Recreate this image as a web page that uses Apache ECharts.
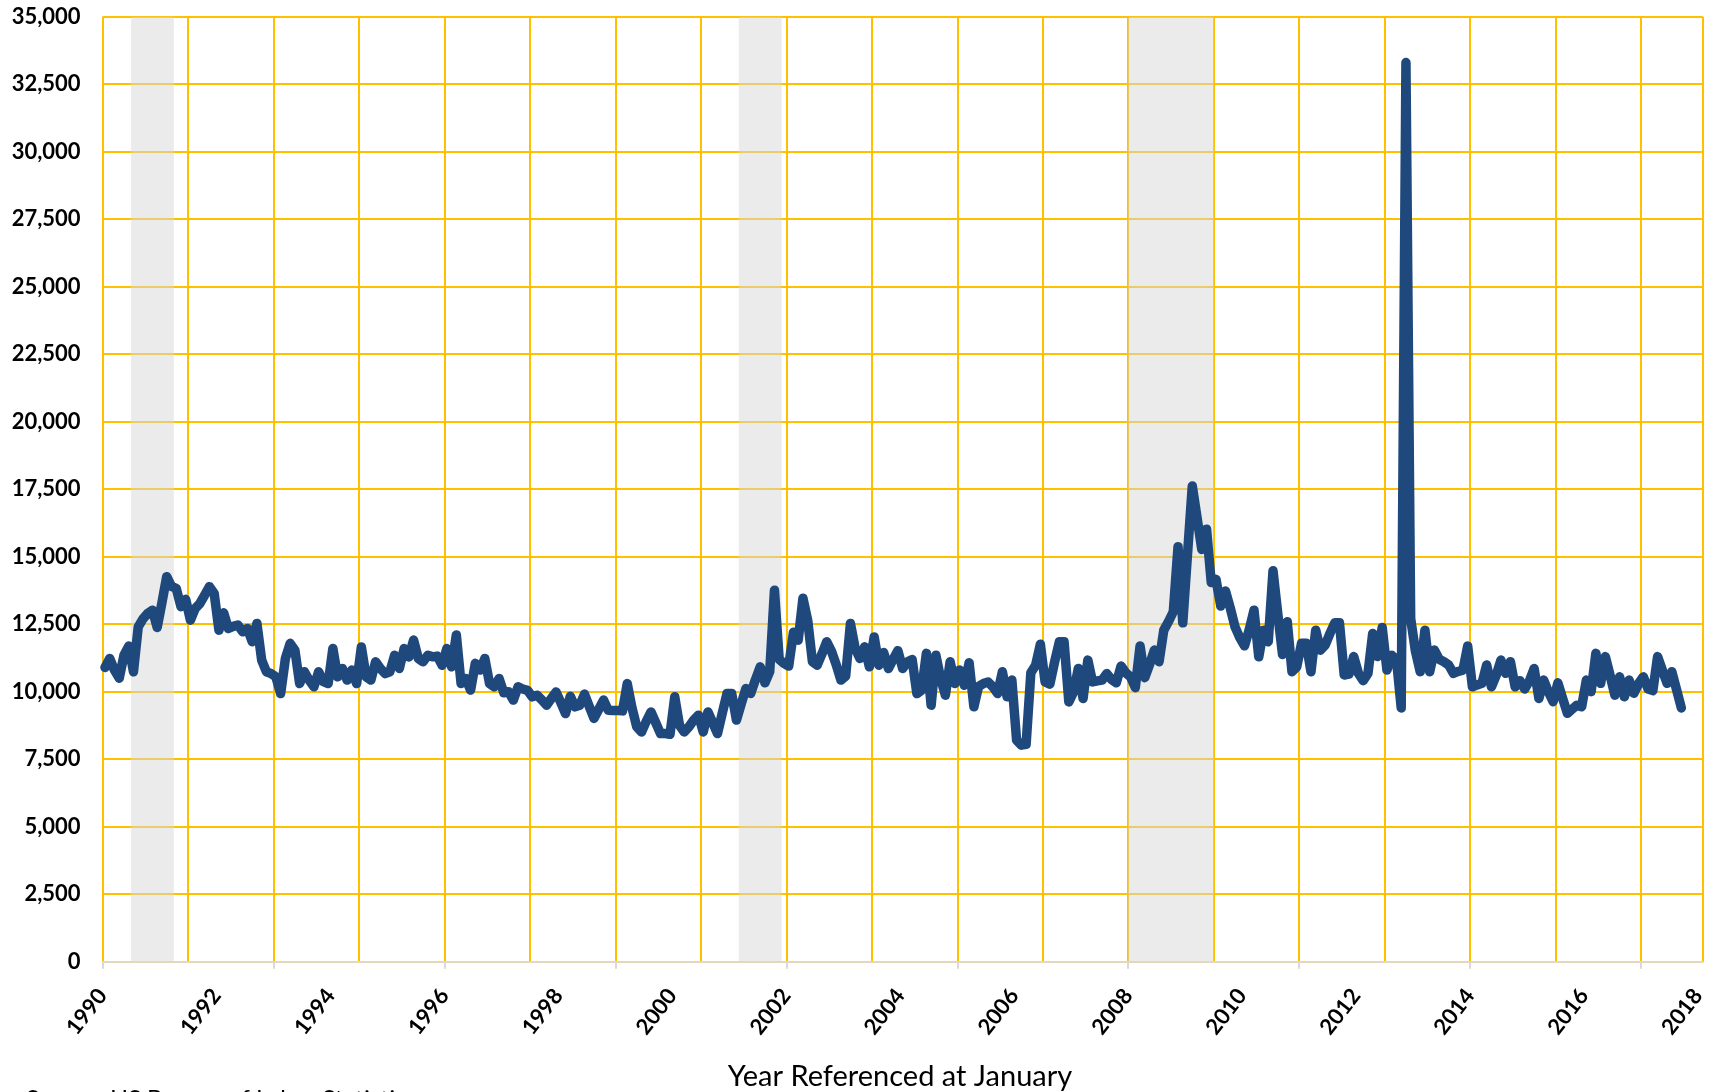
<!DOCTYPE html>
<html>
<head>
<meta charset="utf-8">
<title>Year Referenced at January</title>
<script src="https://cdn.jsdelivr.net/npm/echarts@6.0.0/dist/echarts.min.js"></script>
<style>
html, body { margin: 0; padding: 0; background: #fff; }
#chart { width: 1716px; height: 1092px; }
</style>
</head>
<body>
<div id="chart"></div>
<script>
// monthly values, starting January 1990
const values = [
  10900, 11230, 10800, 10500, 11350, 11690, 10740, 12400, 12700, 12900, 13020, 12380,
  13300, 14260, 13900, 13830, 13150, 13420, 12650, 13080, 13270, 13580, 13890, 13640,
  12280, 12920, 12340, 12420, 12470, 12220, 12340, 11850, 12530, 11170, 10740, 10670,
  10550, 9930, 11230, 11790, 11540, 10300, 10740, 10430, 10180, 10740, 10370, 10300,
  11600, 10550, 10860, 10430, 10800, 10300, 11660, 10550, 10430, 11110, 10860, 10670,
  10740, 11350, 10860, 11600, 11290, 11910, 11230, 11110, 11350, 11290, 11320, 10980,
  11600, 10920, 12100, 10300, 10490, 10060, 11050, 10800, 11230, 10300, 10180, 10490,
  9960, 10000, 9690, 10180, 10100, 10050, 9810, 9870, 9700, 9500, 9750, 9990,
  9600, 9190, 9830, 9440, 9500, 9910, 9450, 9010, 9350, 9690, 9310, 9300,
  9300, 9290, 10300, 9400, 8700, 8510, 8900, 9250, 8850, 8450, 8450, 8420,
  9810, 8760, 8510, 8700, 8950, 9130, 8510, 9250, 8850, 8450, 9200, 9930,
  9930, 8950, 9550, 10120, 9930, 10450, 10920, 10330, 10740, 13760, 11200, 11050,
  10950, 12200, 11910, 13460, 12650, 11110, 10980, 11400, 11850, 11500, 11000, 10430,
  10580, 12530, 11600, 11230, 11660, 10920, 12030, 10980, 11450, 10860, 11200, 11520,
  10860, 11110, 11190, 9930, 10060, 11420, 9500, 11350, 10490, 9870, 11110, 10300,
  10800, 10240, 11070, 9440, 10200, 10300, 10360, 10180, 9930, 10740, 9810, 10430,
  8200, 8020, 8050, 10700, 10980, 11760, 10360, 10280, 11100, 11850, 11850, 9620,
  9990, 10860, 9750, 11170, 10360, 10400, 10430, 10670, 10450, 10330, 10950, 10700,
  10550, 10150, 11690, 10520, 11000, 11540, 11110, 12280, 12600, 12960, 15370, 12550,
  15100, 17620, 16450, 15270, 16020, 14040, 14160, 13170, 13730, 13100, 12400, 12000,
  11700, 12300, 13020, 11290, 12280, 11850, 14480, 12900, 11380, 12590, 10740, 10920,
  11790, 11790, 10740, 12280, 11540, 11730, 12160, 12550, 12550, 10620, 10650, 11300,
  10680, 10410, 10680, 12160, 11300, 12380, 10800, 11350, 11200, 9400, 33300, 12700,
  11500, 10740, 12280, 10740, 11540, 11200, 11110, 10990, 10680, 10750, 10800, 11690,
  10180, 10250, 10310, 10990, 10180, 10600, 11170, 10680, 11110, 10180, 10410, 10100,
  10400, 10860, 9750, 10430, 10000, 9630, 10330, 9750, 9200, 9350, 9500, 9440,
  10430, 10000, 11420, 10310, 11300, 10600, 9870, 10550, 9810, 10430, 9940, 10300,
  10550, 10100, 10040, 11300, 10800, 10310, 10740, 10070, 9400
];
const yearLabels = [1990, 1992, 1994, 1996, 1998, 2000, 2002, 2004, 2006, 2008, 2010, 2012, 2014, 2016, 2018];
// shaded recessions, in months from January 1990
const recessions = [[6, 15], [134, 143], [216, 234]];

const yMax = 35000;
const yStep = 2500;
const monthCount = 337;

const gold = '#FFC000';
const labelFont = { fontFamily: 'Lato', fontWeight: 'bold', fontSize: 22, color: '#000' };

var myChart = echarts.init(document.getElementById('chart'));

var option = {
  animation: false,
  backgroundColor: '#fff',
  grid: {
    left: 102.6,
    right: 13.3,
    top: 16.7,
    bottom: 130.3,
    containLabel: false,
    outerBoundsMode: 'none'
  },
  xAxis: [
    {
      // vertical grid lines
      type: 'value',
      position: 'bottom',
      min: 0,
      max: monthCount,
      interval: 18,
      axisLine: { show: false },
      axisTick: { show: false },
      axisLabel: { show: false },
      splitLine: { show: true, lineStyle: { color: gold, width: 2 } }
    },
    {
      // year labels
      type: 'value',
      position: 'bottom',
      min: 0,
      max: monthCount,
      axisLine: { show: false },
      axisTick: { show: false },
      splitLine: { show: false },
      axisLabel: Object.assign({
        rotate: 52,
        margin: 30,
        customValues: yearLabels.map((y, k) => k * 24),
        formatter: function (v) { return String(yearLabels[Math.round(v / 24)]); }
      }, labelFont)
    },
    {
      // axis line and ticks
      type: 'value',
      position: 'bottom',
      min: 0,
      max: monthCount,
      axisLine: { show: true, lineStyle: { color: '#E3D8BC', width: 2 } },
      axisTick: {
        show: true,
        length: 7,
        customValues: [0, 36, 72, 108, 144, 180, 216, 252, 288, 324],
        lineStyle: { color: '#D9D9D9', width: 2 }
      },
      axisLabel: { show: false },
      splitLine: { show: false }
    }
  ],
  yAxis: {
    type: 'value',
    min: 0,
    max: yMax,
    interval: yStep,
    axisLine: { show: false },
    axisTick: { show: false },
    splitLine: { show: true, lineStyle: { color: gold, width: 2 } },
    axisLabel: Object.assign({
      margin: 22,
      formatter: function (v) { return v.toLocaleString('en-US'); }
    }, labelFont)
  },
  graphic: [
    {
      type: 'text',
      x: 900,
      y: 1077,
      style: {
        text: 'Year Referenced at January',
        fontFamily: 'Lato',
        fontSize: 29,
        fill: '#000',
        textAlign: 'center',
        textVerticalAlign: 'middle'
      }
    },
    {
      type: 'text',
      x: 26,
      y: 1087,
      style: {
        text: 'Source: US Bureau of Labor Statistics',
        fontFamily: 'Lato',
        fontSize: 24,
        fill: '#000',
        textVerticalAlign: 'top'
      }
    }
  ],
  series: [
    {
      name: 'recessions',
      type: 'line',
      xAxisIndex: 0,
      data: [],
      z: 1,
      silent: true,
      markArea: {
        silent: true,
        itemStyle: { color: 'rgba(215,215,215,0.5)' },
        data: recessions.map(r => [{ xAxis: r[0] }, { xAxis: r[1] }])
      }
    },
    {
      name: 'value',
      type: 'line',
      xAxisIndex: 0,
      z: 3,
      showSymbol: false,
      symbol: 'none',
      lineStyle: { color: '#1F497D', width: 9.5, cap: 'round', join: 'round' },
      data: values.map((v, i) => [i + 0.5, v])
    }
  ]
};

myChart.setOption(option);
</script>
</body>
</html>
